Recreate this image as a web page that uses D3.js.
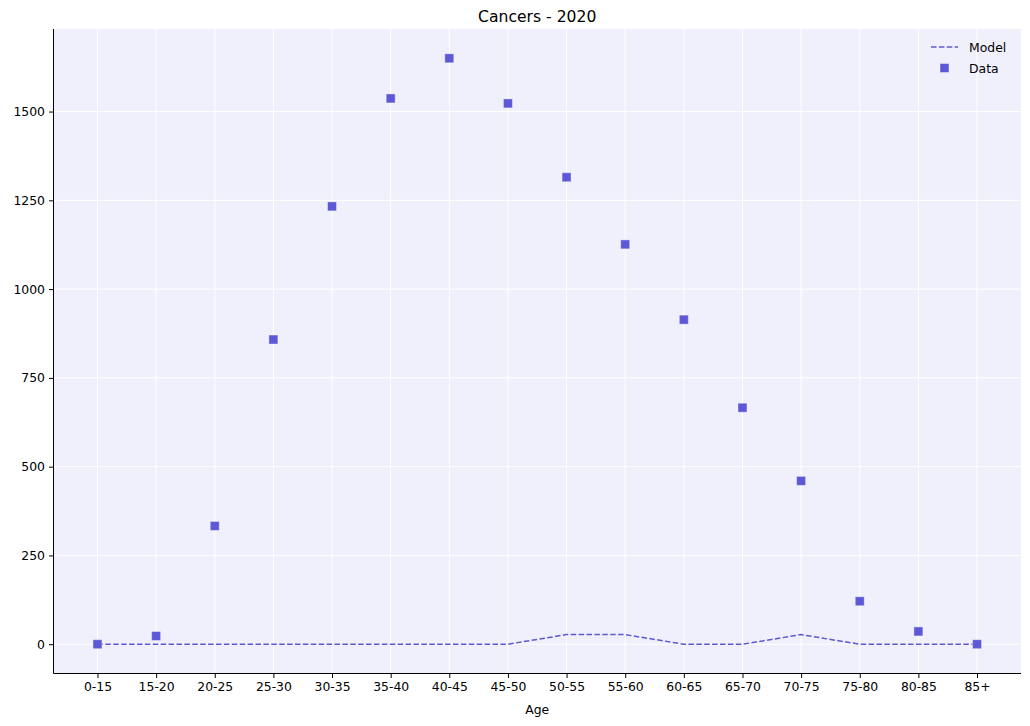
<!DOCTYPE html>
<html><head><meta charset="utf-8">
<script src="https://cdn.jsdelivr.net/npm/d3@7"></script>
<style>body{margin:0;background:#fff}svg{display:block}text{font-family:"DejaVu Sans",sans-serif;fill:#000}</style>
</head><body><svg id="c" width="1030" height="726"></svg>
<script>
const ages = ["0-15","15-20","20-25","25-30","30-35","35-40","40-45","45-50","50-55","55-60","60-65","65-70","70-75","75-80","80-85","85+"];
const dataValues = [0,23,333,858,1233,1537,1650,1523,1315,1126,914,666,460,121,36,0];
const modelValues = [0,0,0,0,0,0,0,0,27,27,0,0,27,0,0,0];
const yTicks = [0,250,500,750,1000,1250,1500];
const color = "#5d59d6";

const svg = d3.select("#c");
const L=53.5, R=1021, T=29, B=673.5;
const n = ages.length;
const x = d3.scaleLinear().domain([-0.75, n-1+0.75]).range([L,R]);
const yMax = d3.max(dataValues), yMin = 0, pad=(yMax-yMin)*0.05;
const y = d3.scaleLinear().domain([yMin-pad, yMax+pad]).range([B,T]);

svg.append("rect").attr("x",L).attr("y",T).attr("width",R-L).attr("height",B-T).attr("fill","#f0f0fc");
// grid
svg.append("g").selectAll("line").data(ages).join("line")
  .attr("x1",(d,i)=>x(i)).attr("x2",(d,i)=>x(i)).attr("y1",T).attr("y2",B)
  .attr("stroke","#fff").attr("stroke-width",1);
svg.append("g").selectAll("line").data(yTicks).join("line")
  .attr("x1",L).attr("x2",R).attr("y1",d=>y(d)).attr("y2",d=>y(d))
  .attr("stroke","#fff").attr("stroke-width",1);

// axes
const fs = "12.4px";
const xAxis = d3.axisBottom(x).tickValues(d3.range(n)).tickFormat(i=>ages[i]).tickSize(4.5).tickPadding(4);
const gx = svg.append("g").attr("transform",`translate(0,${B})`).call(xAxis);
const yAxis = d3.axisLeft(y).tickValues(yTicks).tickFormat(d=>String(d)).tickSize(4.5).tickPadding(4);
const gy = svg.append("g").attr("transform",`translate(${L},0)`).call(yAxis);
[gx,gy].forEach(g=>{
  g.select(".domain").attr("stroke","#000").attr("stroke-width",1);
  g.selectAll(".tick line").attr("stroke","#000");
  g.selectAll(".tick text").attr("font-size",fs).attr("font-family","DejaVu Sans").attr("fill","#000");
});
gx.select(".domain").attr("d",`M${L},0H${R}`);
gy.select(".domain").attr("d",`M0,${T}V${B}`);

// model line
const line = d3.line().x((d,i)=>x(i)).y(d=>y(d));
svg.append("path").datum(modelValues).attr("d",line).attr("fill","none")
  .attr("stroke",color).attr("stroke-width",1.5).attr("stroke-dasharray","5.5,2.4");

// data markers
const s=9;
svg.append("g").selectAll("rect").data(dataValues).join("rect")
  .attr("x",(d,i)=>x(i)-s/2).attr("y",d=>y(d)-s/2).attr("width",s).attr("height",s)
  .attr("fill",color).attr("stroke","#fff").attr("stroke-opacity",0.4).attr("stroke-width",1);

// title & label
svg.append("text").attr("x",(L+R)/2).attr("y",22).attr("text-anchor","middle").attr("font-size","15.6px").text("Cancers - 2020");
svg.append("text").attr("x",(L+R)/2).attr("y",714).attr("text-anchor","middle").attr("font-size",fs).text("Age");

// legend
const lg = svg.append("g");
lg.append("line").attr("x1",931).attr("x2",958).attr("y1",47).attr("y2",47).attr("stroke",color).attr("stroke-width",1.5).attr("stroke-dasharray","5.5,2.4");
lg.append("text").attr("x",969).attr("y",51.5).attr("font-size",fs).text("Model");
lg.append("rect").attr("x",944.5-s/2).attr("y",68-s/2).attr("width",s).attr("height",s).attr("fill",color).attr("stroke","#fff").attr("stroke-opacity",0.4);
lg.append("text").attr("x",969).attr("y",72.5).attr("font-size",fs).text("Data");
</script></body></html>
